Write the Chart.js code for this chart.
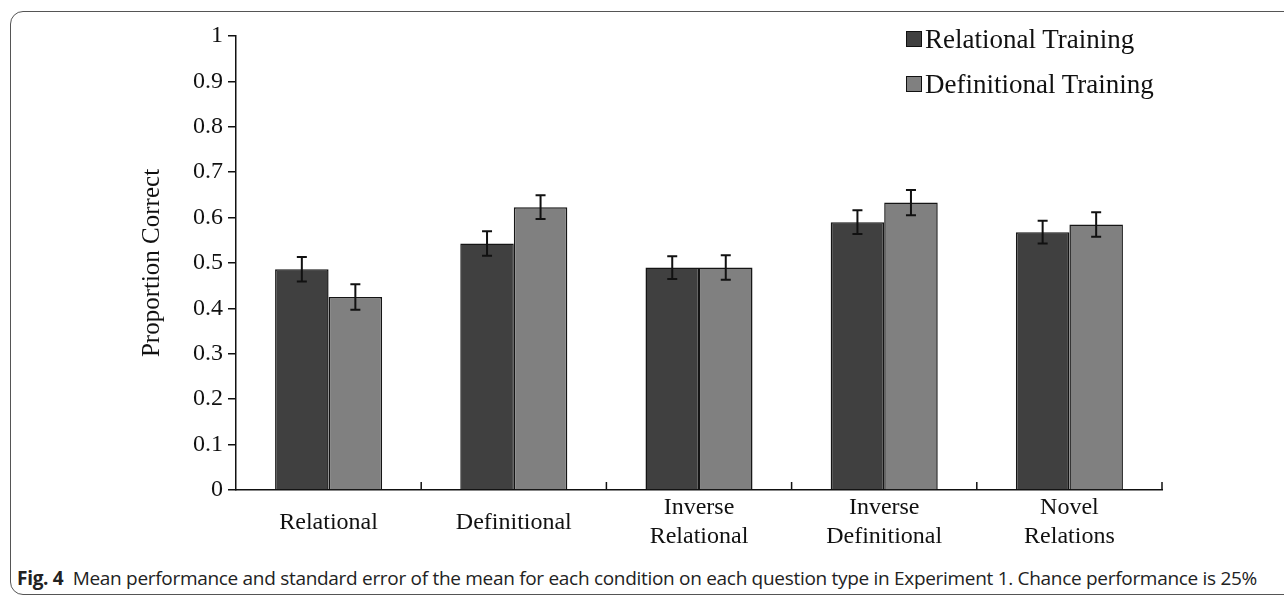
<!DOCTYPE html>
<html>
<head>
<meta charset="utf-8">
<script src="https://cdn.jsdelivr.net/npm/chart.js@4"></script>
<style>
  body { margin: 0; background: #fff; width: 1284px; height: 597px; overflow: hidden; position: relative; }
  #frame { position: absolute; left: 10px; top: 11px; width: 1290px; height: 582px; border: 1.5px solid #555; border-radius: 13px; }
  #c { position: absolute; left: 0; top: 0; }
  .leg { position: absolute; left: 906px; font-family: "Liberation Serif", serif; font-size: 27px; color: #111; white-space: nowrap; line-height: 30px; }
  .leg span.box { display: inline-block; width: 14px; height: 14px; border: 1px solid #111; margin-right: 3px; vertical-align: 1px; }
  #caption { position: absolute; left: 17px; top: 565px; font-family: "Open Sans", sans-serif; font-size: 19px; color: #222; white-space: nowrap; letter-spacing: -0.3px; line-height: 26px; }
</style>
</head>
<body>
<div id="frame"></div>
<canvas id="c" width="1284" height="560"></canvas>
<div class="leg" style="top:24px"><span class="box" style="background:#404040"></span>Relational Training</div>
<div class="leg" style="top:69px"><span class="box" style="background:#808080"></span>Definitional Training</div>
<div id="caption"><b>Fig. 4</b>&nbsp; Mean performance and standard error of the mean for each condition on each question type in Experiment 1. Chance performance is 25%</div>
<script>
// Data
const questionTypes = ['Relational', 'Definitional', ['Inverse', 'Relational'], ['Inverse', 'Definitional'], ['Novel', 'Relations']];
const relationalTraining = [0.486, 0.543, 0.490, 0.590, 0.568];
const definitionalTraining = [0.425, 0.623, 0.490, 0.633, 0.585];
const relationalErr = [0.027, 0.027, 0.025, 0.026, 0.025];
const definitionalErr = [0.028, 0.026, 0.027, 0.028, 0.027];

const serif = 'Liberation Serif';

// error bars drawn from the bar elements + y scale
const errorBars = {
    id: 'errorBars',
    afterDatasetsDraw(chart) {
        const ctx = chart.ctx;
        const y = chart.scales.y;
        const errs = [relationalErr, definitionalErr];
        chart.data.datasets.forEach((ds, i) => {
            const meta = chart.getDatasetMeta(i);
            meta.data.forEach((bar, j) => {
                const v = ds.data[j];
                const top = y.getPixelForValue(v + errs[i][j]);
                const bot = y.getPixelForValue(v - errs[i][j]);
                ctx.save();
                ctx.strokeStyle = '#111';
                ctx.lineWidth = 2;
                ctx.beginPath();
                ctx.moveTo(bar.x, top); ctx.lineTo(bar.x, bot);
                ctx.moveTo(bar.x - 5, top); ctx.lineTo(bar.x + 5, top);
                ctx.moveTo(bar.x - 5, bot); ctx.lineTo(bar.x + 5, bot);
                ctx.stroke();
                ctx.restore();
            });
        });
    }
};

// small inward ticks at category boundaries on the x axis
const innerTicks = {
    id: 'innerTicks',
    afterDraw(chart) {
        const ctx = chart.ctx;
        const x = chart.scales.x;
        const bottom = chart.chartArea.bottom;
        ctx.save();
        ctx.strokeStyle = '#111';
        ctx.lineWidth = 1.5;
        ctx.beginPath();
        for (let i = 0; i < questionTypes.length; i++) {
            const px = x.getPixelForValue(i + 0.5);
            ctx.moveTo(px, bottom);
            ctx.lineTo(px, bottom - 8);
        }
        ctx.stroke();
        ctx.restore();
    }
};

const chart = new Chart(document.getElementById('c'), {
    type: 'bar',
    data: {
        labels: questionTypes,
        datasets: [{
            label: 'Relational Training',
            data: relationalTraining,
            backgroundColor: '#404040',
            borderColor: '#151515',
            borderWidth: 1.5,
            categoryPercentage: 0.578,
            barPercentage: 1.0
        }, {
            label: 'Definitional Training',
            data: definitionalTraining,
            backgroundColor: '#808080',
            borderColor: '#151515',
            borderWidth: 1.5,
            categoryPercentage: 0.578,
            barPercentage: 1.0
        }]
    },
    options: {
        responsive: false,
        animation: false,
        layout: { padding: { left: 120, right: 122, top: 36, bottom: 0 } },
        plugins: { legend: { display: false }, tooltip: { enabled: false } },
        scales: {
            x: {
                grid: { display: false, drawTicks: false },
                border: { display: true, color: '#111', width: 1.5 },
                ticks: { color: '#111', font: { family: serif, size: 24 }, padding: 18, maxRotation: 0, crossAlign: 'center' },
                afterFit: s => { s.height = 70; }
            },
            y: {
                min: 0, max: 1,
                grid: { drawOnChartArea: false, drawTicks: true, tickLength: 8, color: '#111', lineWidth: 1.5 },
                border: { display: true, color: '#111', width: 1.5 },
                ticks: { stepSize: 0.1, color: '#111', font: { family: serif, size: 24 }, padding: 5,
                    callback: v => String(Math.round(v * 10) / 10) },
                title: { display: true, text: 'Proportion Correct', color: '#111', font: { family: serif, size: 25 }, padding: { top: 17, bottom: 0 } },
                afterFit: s => { s.width = 116; }
            }
        }
    },
    plugins: [errorBars, innerTicks]
});
</script>
</body>
</html>
